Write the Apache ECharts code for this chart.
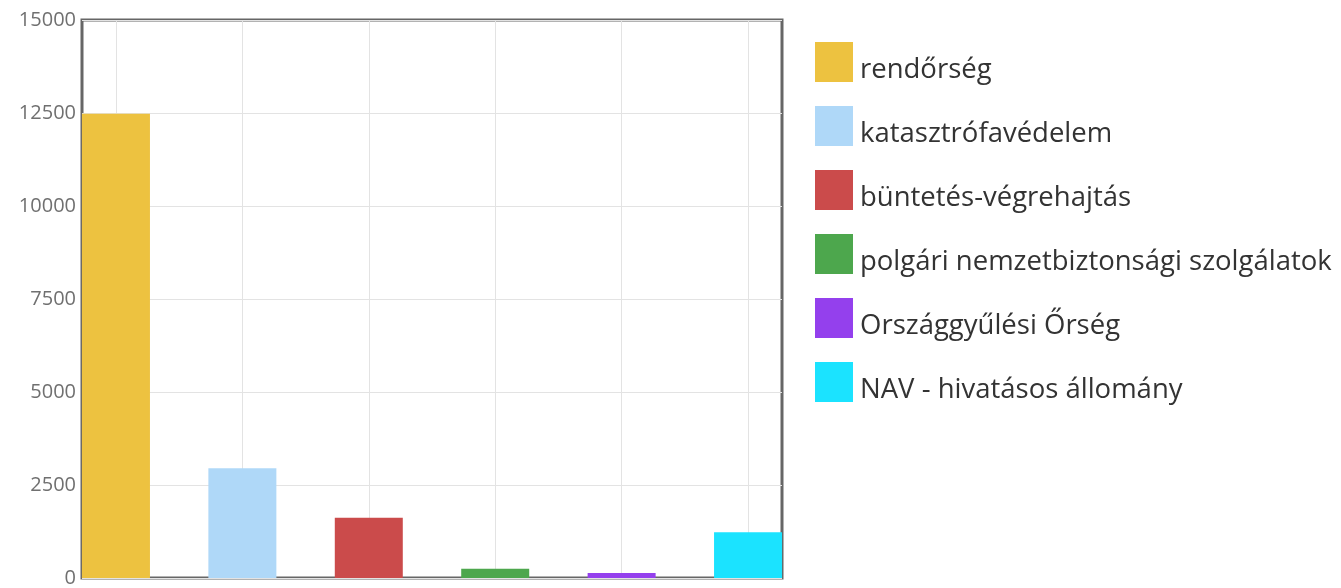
<!DOCTYPE html>
<html>
<head>
<meta charset="utf-8">
<script src="https://cdn.jsdelivr.net/npm/echarts@6/dist/echarts.min.js"></script>
<style>
html,body{margin:0;padding:0;background:#fff;}
#chart{width:1341px;height:588px;}
</style>
</head>
<body>
<div id="chart"></div>
<script>
const categories = ["rendőrség", "katasztrófavédelem", "büntetés-végrehajtás", "polgári nemzetbiztonsági szolgálatok", "Országgyűlési Őrség", "NAV - hivatásos állomány"];
const values = [12480, 2950, 1620, 250, 135, 1230];
const colors = ["#edc240", "#afd8f8", "#cb4b4b", "#4da74d", "#9440ed", "#1be3ff"];
const yTicks = [0, 2500, 5000, 7500, 10000, 12500, 15000];

const chart = echarts.init(document.getElementById('chart'));
const positions = categories.map((c, i) => i);

const series = categories.map((name, i) => ({
  name: name,
  type: 'bar',
  barWidth: 68,
  barGap: '-100%',
  clip: false,
  itemStyle: { color: colors[i] },
  data: [[positions[i], values[i]]],
  markLine: i === 0 ? {
    silent: true,
    z: 1,
    symbol: ['none', 'none'],
    label: { show: false },
    lineStyle: { color: '#e3e3e3', width: 1, type: 'solid' },
    data: positions.map(p => ({ xAxis: p }))
  } : undefined
}));

chart.setOption({
  animation: false,
  backgroundColor: '#fff',
  textStyle: { fontFamily: 'Open Sans' },
  grid: {
    left: 82, right: 559, top: 20, bottom: 8,
    show: true, borderColor: '#666', borderWidth: 3, backgroundColor: 'transparent'
  },
  xAxis: {
    type: 'value',
    min: -0.2686,
    max: positions.length - 1 + 0.2686,
    axisLine: { show: false },
    axisTick: { show: false },
    axisLabel: { show: false },
    splitLine: { show: false }
  },
  yAxis: {
    type: 'value',
    min: yTicks[0],
    max: yTicks[yTicks.length - 1],
    interval: yTicks[1] - yTicks[0],
    axisLine: { show: false },
    axisTick: { show: false },
    axisLabel: { color: '#707070', fontSize: 20, fontFamily: 'Open Sans', margin: 6, formatter: v => String(v) },
    splitLine: { lineStyle: { color: '#e3e3e3', width: 1 } }
  },
  legend: {
    orient: 'vertical',
    left: 815,
    top: 40,
    padding: 0,
    itemWidth: 38,
    itemHeight: 40,
    itemGap: 20,
    icon: 'rect',
    selectedMode: false,
    formatter: name => '{a|' + name + '}',
    textStyle: {
      fontSize: 27.5, color: '#333', fontFamily: 'Open Sans',
      rich: { a: { fontSize: 27.5, color: '#333', fontFamily: 'Open Sans', lineHeight: 24, padding: [16, 0, 0, 2] } }
    },
    data: categories
  },
  series: series
});
</script>
</body>
</html>
